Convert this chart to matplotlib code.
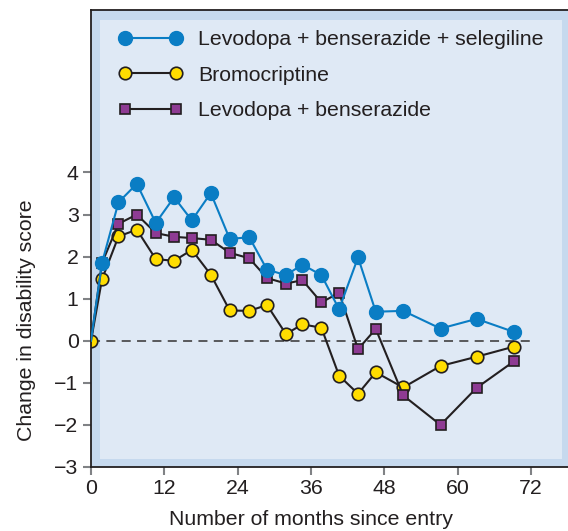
import matplotlib.pyplot as plt
from matplotlib.patches import Rectangle

plt.rcParams['font.family'] = ['Liberation Sans', 'DejaVu Sans']

# months since entry
months = [0, 1.8, 4.5, 7.5, 10.6, 13.6, 16.5, 19.6, 22.7, 25.9, 28.8,
          31.9, 34.6, 37.7, 40.6, 43.7, 46.6, 51.1, 57.2, 63.1, 69.2]

# change in disability score for each treatment group
selegiline = [0, 1.85, 3.29, 3.73, 2.80, 3.41, 2.86, 3.51, 2.42, 2.46, 1.69,
              1.56, 1.81, 1.56, 0.75, 1.98, 0.69, 0.71, 0.29, 0.52, 0.21]
bromocriptine = [0, 1.46, 2.48, 2.64, 1.94, 1.90, 2.16, 1.57, 0.72, 0.71, 0.85,
                 0.16, 0.39, 0.31, -0.83, -1.26, -0.75, -1.11, -0.60, -0.38, -0.14]
levodopa = [0, 1.85, 2.78, 3.00, 2.56, 2.47, 2.44, 2.40, 2.09, 1.96, 1.49,
            1.36, 1.44, 0.91, 1.14, -0.20, 0.28, -1.30, -2.00, -1.12, -0.49]

labels = ["Levodopa + benserazide + selegiline", "Bromocriptine",
          "Levodopa + benserazide"]

fs = 15.3
xmax, ymin, ymax = 78.06, -3, 7.86

fig = plt.figure(figsize=(5.68, 5.31), dpi=100)
ax = fig.add_axes([91 / 568, 1 - 467 / 531, 477 / 568, 457 / 531])

# two-tone background: darker band round a lighter panel
ax.set_facecolor("#c6d9ee")
ax.add_patch(Rectangle((0.019, 0.0175), 0.968, 0.96, transform=ax.transAxes,
                       facecolor="#dfe9f5", edgecolor="none", zorder=0))

ax.plot([0, 72], [0, 0], ls=(0, (5, 3.5)), color="#4d4d4f", lw=1.3, zorder=1)

dark = "#231f20"
n = len(months)
ax.plot(months, bromocriptine, "-o", color=dark, lw=1.5, ms=9,
        mfc="#ffdd00", mec=dark, mew=1.2, label=labels[1], zorder=2)
ax.plot(months, levodopa, "-s", color=dark, lw=1.5, ms=7.5,
        mfc="#8e3b93", mec=dark, mew=1.2, label=labels[2], zorder=3,
        markevery=range(1, n))
ax.plot(months, selegiline, "-o", color="#0a7dc4", lw=1.5, ms=10,
        mfc="#0a7dc4", mec="#0a7dc4", label=labels[0], zorder=4,
        markevery=range(1, n))

ax.set_xlim(0, xmax)
ax.set_ylim(ymin, ymax)
ax.set_xticks(range(0, 73, 12))
ax.set_yticks(range(-3, 5))
ax.set_yticklabels(["\u22123", "\u22122", "\u22121", "0", "1", "2", "3", "4"])
ax.tick_params(direction="out", length=6, width=1.5, color="#808285",
               labelsize=fs, labelcolor=dark, pad=3)
for s in ["left", "bottom", "top"]:
    ax.spines[s].set_color(dark)
    ax.spines[s].set_linewidth(1.3)
ax.spines["right"].set_visible(False)

# labels centred on the ticked ranges, not on the whole axes
ax.set_xlabel("Number of months since entry", fontsize=fs, color=dark)
ax.set_ylabel("Change in disability score", fontsize=fs, color=dark)
ax.xaxis.set_label_coords(36 / xmax, -0.094)
ax.yaxis.set_label_coords(-0.115, (0.5 - ymin) / (ymax - ymin))

handles, labs = ax.get_legend_handles_labels()
order = [2, 0, 1]
ax.legend([handles[i] for i in order], [labs[i] for i in order],
          loc="upper left", bbox_to_anchor=(0.022, 0.993), frameon=False,
          numpoints=2, fontsize=fs, handlelength=3.0, labelspacing=0.78,
          handletextpad=0.75, borderpad=0.3, labelcolor=dark)

fig.savefig("out.png", dpi=100)
